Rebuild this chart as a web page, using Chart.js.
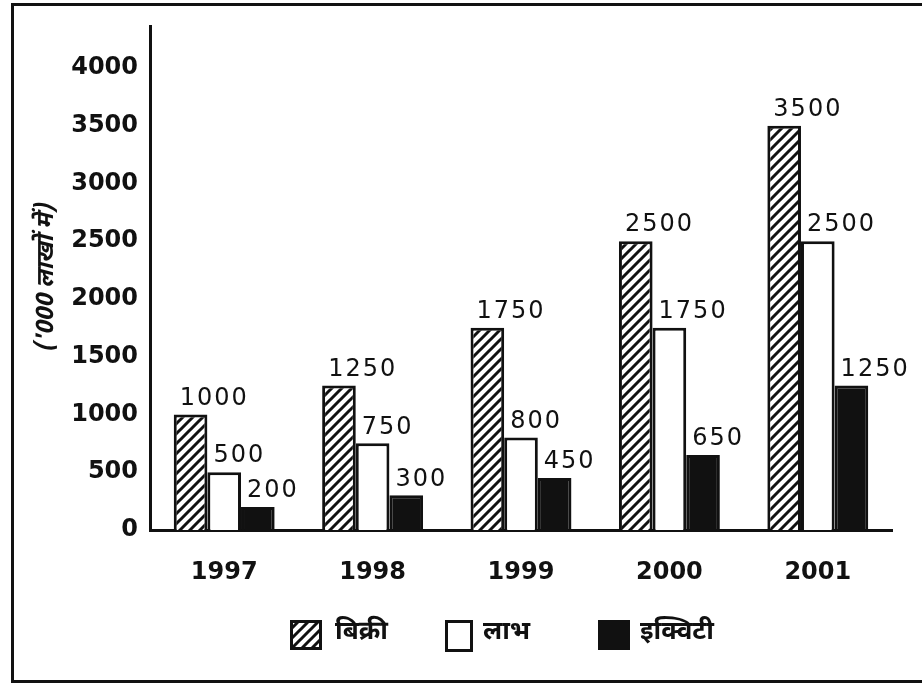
<!DOCTYPE html>
<html>
<head>
<meta charset="utf-8">
<script src="https://cdn.jsdelivr.net/npm/chart.js@4.4.1/dist/chart.umd.min.js"></script>
<style>
  body { margin: 0; background: #fff; }
  #wrap { position: relative; width: 922px; height: 683px; overflow: hidden; }
  #frame { position: absolute; left: 11px; top: 3px; width: 1000px; height: 674px; border: 3px solid #111; }
  #myChart { position: absolute; left: 0; top: 0; }
  .leg { position: absolute; top: 615px; font-family: "Noto Sans Devanagari", "Noto Sans", sans-serif; font-size: 26px; font-weight: bold; color: #111; line-height: 36px; }
  .sw { position: absolute; top: 620px; }
</style>
</head>
<body>
<div id="wrap">
  <div id="frame"></div>
  <canvas id="myChart" width="922" height="683"></canvas>
  <canvas class="sw" id="sw1" width="32" height="30" style="left:290px"></canvas>
  <div class="leg" style="left:335px">बिक्री</div>
  <canvas class="sw" id="sw2" width="28" height="32" style="left:445px"></canvas>
  <div class="leg" style="left:483px">लाभ</div>
  <canvas class="sw" id="sw3" width="32" height="30" style="left:598px"></canvas>
  <div class="leg" style="left:640px">इक्विटी</div>
</div>
<script>
const years = ['1997', '1998', '1999', '2000', '2001'];
const bikri = [1000, 1250, 1750, 2500, 3500];
const labh = [500, 750, 800, 1750, 2500];
const equity = [200, 300, 450, 650, 1250];
const yTicks = [0, 500, 1000, 1500, 2000, 2500, 3000, 3500, 4000];

// diagonal stripes for the first series
function makeHatch(g) {
    const c = document.createElement('canvas');
    c.width = 10; c.height = 10;
    const h = c.getContext('2d');
    h.fillStyle = '#fff';
    h.fillRect(0, 0, 10, 10);
    h.strokeStyle = '#111';
    h.lineWidth = 3;
    h.beginPath();
    h.moveTo(-5, 5); h.lineTo(5, -5);
    h.moveTo(0, 10); h.lineTo(10, 0);
    h.moveTo(5, 15); h.lineTo(15, 5);
    h.stroke();
    return g.createPattern(c, 'repeat');
}

function swatch(id, fill) {
    const el = document.getElementById(id);
    const g = el.getContext('2d');
    g.fillStyle = fill === 'hatch' ? makeHatch(g) : fill;
    g.fillRect(0, 0, el.width, el.height);
    g.strokeStyle = '#111';
    g.lineWidth = 3;
    g.strokeRect(1.5, 1.5, el.width - 3, el.height - 3);
}
swatch('sw1', 'hatch');
swatch('sw2', '#fff');
swatch('sw3', '#111');

const valueLabels = {
    id: 'valueLabels',
    afterDatasetsDraw(chart) {
        const ctx = chart.ctx;
        ctx.save();
        ctx.font = '24px "DejaVu Sans", sans-serif';
        ctx.letterSpacing = '2px';
        ctx.fillStyle = '#111';
        ctx.textAlign = 'left';
        ctx.textBaseline = 'bottom';
        chart.data.datasets.forEach((ds, i) => {
            chart.getDatasetMeta(i).data.forEach((bar, j) => {
                ctx.fillText(ds.data[j], bar.x - bar.width / 2 + 6, bar.y - 4);
            });
        });
        ctx.restore();
    }
};

const ctx = document.getElementById('myChart');

const chart = new Chart(ctx, {
    type: 'bar',
    data: {
        labels: years,
        datasets: [
            { label: 'बिक्री', data: bikri, backgroundColor: makeHatch(ctx.getContext('2d')), borderColor: '#111', borderWidth: 3 },
            { label: 'लाभ', data: labh, backgroundColor: '#fff', borderColor: '#111', borderWidth: 3 },
            { label: 'इक्विटी', data: equity, backgroundColor: '#111', borderColor: '#111', borderWidth: 3 }
        ]
    },
    options: {
        responsive: false,
        animation: false,
        layout: { padding: { left: 30, right: 30, top: 18, bottom: 78 } },
        datasets: { bar: { categoryPercentage: 0.68, barPercentage: 1 } },
        plugins: {
            legend: { display: false },
            tooltip: { enabled: false }
        },
        scales: {
            x: {
                grid: { display: false, drawTicks: false },
                border: { color: '#111', width: 3 },
                ticks: {
                    color: '#111',
                    padding: 28,
                    font: { family: 'DejaVu Sans', size: 24, weight: 'bold' }
                },
                afterFit(scale) { scale.height = 75; }
            },
            y: {
                min: 0,
                max: 4360,
                grid: { display: false, drawTicks: false },
                border: { color: '#111', width: 3 },
                afterBuildTicks(scale) {
                    scale.ticks = yTicks.map(v => ({ value: v }));
                },
                ticks: {
                    color: '#111',
                    padding: 12,
                    callback: v => String(v),
                    font: { family: 'DejaVu Sans', size: 24, weight: 'bold' }
                },
                title: {
                    display: true,
                    text: "('000 लाखों में)",
                    color: '#111',
                    padding: 4,
                    font: { family: 'Noto Sans Devanagari, Noto Sans, sans-serif', size: 24, weight: 'bold', style: 'italic' }
                },
                afterFit(scale) { scale.width = 120; }
            }
        }
    },
    plugins: [valueLabels]
});
</script>
</body>
</html>
